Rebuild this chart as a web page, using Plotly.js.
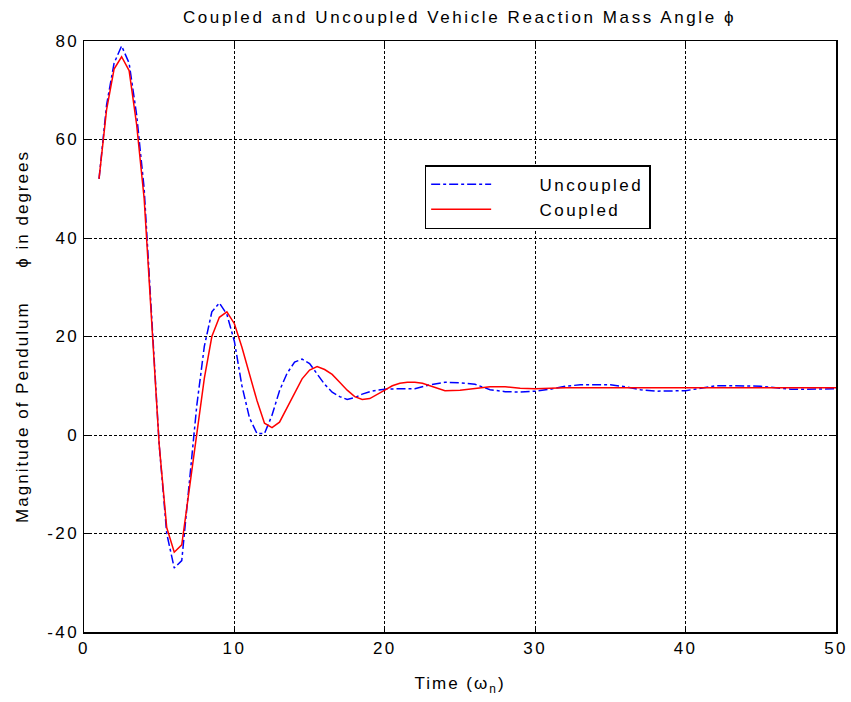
<!DOCTYPE html>
<html>
<head>
<meta charset="utf-8">
<script src="https://cdn.plot.ly/plotly-3.0.1.min.js"></script>
<style>
html,body{margin:0;padding:0;background:#fff;}
#chart{width:851px;height:702px;}
.gtitle{letter-spacing:2.6px;}
.xtick text, .ytick text{letter-spacing:2.4px;}
.xtitle, .ytitle{letter-spacing:2px;}
.legendtext{letter-spacing:2.5px;}
</style>
</head>
<body>
<div id="chart"></div>
<script>
const timeUncoupled = [1,1.5,2,2.5,3,3.5,4,4.5,5,5.5,6,6.5,7,7.5,8,8.5,9,9.5,10,10.5,11,11.5,12,12.5,13,13.5,14,14.5,15,15.5,16,16.5,17,17.5,18,18.5,19,19.5,20,21,22,23,24,25,26,27,28,29,30,31,32,33,34,35,36,37,38,39,40,41,42,43,44,45,46,47,48,49,50];
const uncoupled = [52,67,75.5,79,75.5,65,50,25,-2,-20,-27,-25.5,-10,6,18,25,26.8,24.5,19,10,3.5,0.3,0.3,4,9,12.5,14.8,15.4,14.5,12.5,10.3,8.7,7.8,7.2,7.6,8.3,8.8,9.1,9.3,9.4,9.4,10.2,10.7,10.6,10.3,9.2,8.8,8.7,8.9,9.3,9.9,10.2,10.2,10.2,9.8,9.2,8.9,8.9,9.0,9.5,10.0,10.0,10.0,9.9,9.6,9.3,9.3,9.3,9.4];

const timeCoupled = [1,1.5,2,2.5,3,3.5,4,4.5,5,5.5,6,6.5,7,7.5,8,8.5,9,9.5,10,10.5,11,11.5,12,12.5,13,13.5,14,14.5,15,15.5,16,16.5,17,17.5,18,18.5,19,19.5,20,20.5,21,21.5,22,22.5,23,23.5,24,25,26,27,28,29,30,31,32,34,36,38,40,42,44,46,48,50];
const coupled = [52,66,74.3,76.8,74,63,48,24,-2,-18.8,-23.8,-22.3,-11,1,11.5,20,23.9,25,22.6,17.8,12.5,7,2.4,1.5,2.6,5.5,8.5,11.4,13.2,13.9,13.3,12.3,10.7,9.1,7.8,7.2,7.4,8.2,9.1,10.0,10.5,10.7,10.7,10.5,10.0,9.5,9.0,9.1,9.5,9.8,9.8,9.5,9.4,9.5,9.6,9.6,9.6,9.6,9.6,9.6,9.6,9.6,9.6,9.6];

const xTicks = [0,10,20,30,40,50];
const yTicks = [-40,-20,0,20,40,60,80];
const seriesNames = ['Uncoupled', 'Coupled'];

const font = 'Liberation Sans, Arial, Helvetica, sans-serif';
const pad = '\u00a0\u00a0\u00a0\u00a0\u00a0\u00a0';

const traces = [
  {x: timeUncoupled, y: uncoupled, type: 'scatter', mode: 'lines', name: pad + seriesNames[0],
   line: {color: '#0000ff', width: 1.5, dash: 'dashdot'}},
  {x: timeCoupled, y: coupled, type: 'scatter', mode: 'lines', name: pad + seriesNames[1],
   line: {color: '#ff0000', width: 1.5}}
];

const axisCommon = {
  showline: true, mirror: 'ticks', linecolor: '#000', linewidth: 1.5,
  ticks: 'inside', ticklen: 6, tickcolor: '#000', tickwidth: 1,
  showgrid: true, gridcolor: '#000', gridwidth: 1, griddash: '3px,2px',
  zeroline: false, tickfont: {family: font, size: 17, color: '#000'}
};

const layout = {
  width: 851, height: 702,
  margin: {l: 84, r: 15, t: 41, b: 70},
  paper_bgcolor: '#fff', plot_bgcolor: '#fff',
  font: {family: font, color: '#000'},
  title: {text: 'Coupled and Uncoupled Vehicle Reaction Mass Angle \u03d5',
          font: {family: font, size: 17, color: '#000'},
          x: 0.54, xanchor: 'center', y: 0.976, yanchor: 'middle'},
  xaxis: Object.assign({}, axisCommon, {
    range: [0, 50], tickvals: xTicks, ticktext: xTicks.map(String),
    title: {text: 'Time (\u03c9<sub>n</sub>)', font: {family: font, size: 17, color: '#000'}, standoff: 20}
  }),
  yaxis: Object.assign({}, axisCommon, {
    range: [-40, 80], tickvals: yTicks, ticktext: yTicks.map(String),
    title: {text: 'Magnitude of Pendulum\u00a0\u00a0\u00a0\u00a0\u00a0\u03d5 in degrees', font: {family: font, size: 17, color: '#000'}, standoff: 14}
  }),
  showlegend: true,
  legend: {
    x: 0.453, y: 0.79, xanchor: 'left', yanchor: 'top',
    bgcolor: '#fff', bordercolor: '#000', borderwidth: 1.5,
    font: {family: font, size: 17, color: '#000'},
    itemwidth: 60, tracegroupgap: 0
  }
};

Plotly.newPlot('chart', traces, layout, {displayModeBar: false, staticPlot: true});
</script>
</body>
</html>
